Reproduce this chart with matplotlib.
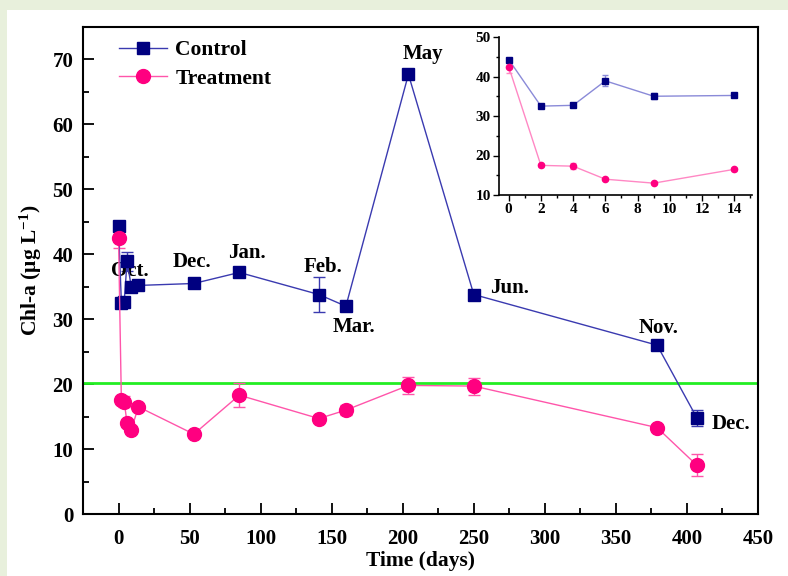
import matplotlib
matplotlib.use("Agg")
import matplotlib.pyplot as plt
from matplotlib.patches import Rectangle
from matplotlib.lines import Line2D
from matplotlib.ticker import MultipleLocator

plt.rcParams['font.family'] = ['Liberation Serif', 'DejaVu Serif']
plt.rcParams['font.weight'] = 'bold'
plt.rcParams['mathtext.fontset'] = 'custom'
plt.rcParams['mathtext.rm'] = 'Liberation Serif:bold'
plt.rcParams['mathtext.bf'] = 'Liberation Serif:bold'
plt.rcParams['mathtext.default'] = 'bf'

# data (days, Chl-a in ug/L)
days = [0, 2, 4, 6, 9, 14, 53, 85, 141, 160, 204, 250, 379, 407]
control = [44.3, 32.5, 32.7, 38.9, 35.0, 35.2, 35.5, 37.2, 33.8, 32.0, 67.7, 33.8, 26.0, 14.8]
control_err = [0.5, 0.3, 0.3, 1.4, 0.7, 0.3, 0.3, 0.3, 2.7, 0.3, 0.5, 0.3, 0.3, 1.2]
treatment = [42.5, 17.5, 17.3, 14.0, 13.0, 16.5, 12.3, 18.3, 14.7, 16.0, 19.8, 19.7, 13.3, 7.5]
treatment_err = [1.6, 0.3, 0.8, 0.3, 0.3, 0.3, 0.5, 1.8, 0.3, 0.8, 1.3, 1.3, 0.3, 1.7]
threshold = 20.25

month_labels = ['Oct.', 'Dec.', 'Jan.', 'Feb.', 'Mar.', 'May', 'Jun.', 'Nov.', 'Dec.']
month_x = [8, 52, 90, 144, 166, 214, 275, 380, 431]
month_y = [37.5, 38.8, 40.2, 38.0, 28.8, 70.9, 34.8, 28.6, 13.8]

# inset: first two weeks
inset_n = 6

c_mark = '#000080'
c_line = '#3a3ab0'
t_mark = '#ff0080'
t_line = '#ff55aa'

fig = plt.figure(figsize=(7.88, 5.76), dpi=100)
fig.patch.set_facecolor('#e8f0dc')
bg = Rectangle((7/788, 0), 1, 1 - 10/576, transform=fig.transFigure,
               facecolor='white', edgecolor='none', zorder=-10)
fig.add_artist(bg)

ax = fig.add_axes([83/788, 62/576, 675/788, 487/576])
ax.set_facecolor('none')

ax.errorbar(days, control, yerr=control_err, color=c_line, lw=1, marker='s', ms=8,
            mfc=c_mark, mec=c_mark, ecolor=c_line, elinewidth=1, capsize=4, zorder=3)
ax.errorbar(days, treatment, yerr=treatment_err, color=t_line, lw=1, marker='o', ms=10,
            mfc=t_mark, mec=t_mark, ecolor=t_line, elinewidth=1, capsize=4, zorder=3)
ax.axhline(threshold, color='#22ee22', lw=2, zorder=2)

for lab, x, y in zip(month_labels, month_x, month_y):
    ax.text(x, y, lab, ha='center', va='center', fontsize=15, fontweight='bold')

ax.set_xlim(-25, 450)
ax.set_ylim(0, 75)
ax.xaxis.set_major_locator(MultipleLocator(50))
ax.xaxis.set_minor_locator(MultipleLocator(25))
ax.yaxis.set_major_locator(MultipleLocator(10))
ax.yaxis.set_minor_locator(MultipleLocator(5))
ax.tick_params(which='both', direction='in', width=1.3, labelsize=15)
ax.tick_params(axis='x', pad=11)
ax.tick_params(axis='y', pad=7)
ax.tick_params(which='major', length=8)
ax.tick_params(which='minor', length=4)
for s in ax.spines.values():
    s.set_linewidth(1.5)
ax.set_xlabel('Time (days)', fontsize=15.5, fontweight='bold', labelpad=1)
ax.set_ylabel(r'Chl-a (μg L$^{-1}$)', fontsize=15.5, fontweight='bold', labelpad=6)

handles = [Line2D([], [], color=c_line, lw=1, marker='s', ms=8, mfc=c_mark, mec=c_mark),
           Line2D([], [], color=t_line, lw=1, marker='o', ms=10, mfc=t_mark, mec=t_mark)]
ax.legend(handles, ['Control', 'Treatment'], loc='upper left', bbox_to_anchor=(0.025, 1.013),
          frameon=False, fontsize=15.5, handlelength=2.2, handletextpad=0.4, labelspacing=0.4)

# inset
axi = fig.add_axes([499/788, 381/576, 253/788, 158/576])
axi.set_facecolor('none')
axi.errorbar(days[:inset_n], control[:inset_n], yerr=control_err[:inset_n], color='#8a8ad8', lw=1,
             marker='s', ms=4.5, mfc=c_mark, mec=c_mark, ecolor='#8a8ad8', capsize=2)
axi.errorbar(days[:inset_n], treatment[:inset_n], yerr=treatment_err[:inset_n], color='#ff88c4', lw=1,
             marker='o', ms=4.5, mfc=t_mark, mec=t_mark, ecolor='#ff88c4', capsize=2)
axi.set_xlim(-0.6, 15.1)
axi.set_ylim(10, 50)
axi.xaxis.set_major_locator(MultipleLocator(2))
axi.xaxis.set_minor_locator(MultipleLocator(1))
axi.yaxis.set_major_locator(MultipleLocator(10))
axi.yaxis.set_minor_locator(MultipleLocator(5))
axi.spines['top'].set_visible(False)
axi.spines['right'].set_visible(False)
for s in ('left', 'bottom'):
    axi.spines[s].set_linewidth(1.2)
axi.tick_params(which='both', direction='out', width=1, labelsize=11, pad=2)
axi.tick_params(which='major', length=4)
axi.tick_params(which='minor', length=2)

fig.savefig('out.png', dpi=100, facecolor=fig.get_facecolor())
